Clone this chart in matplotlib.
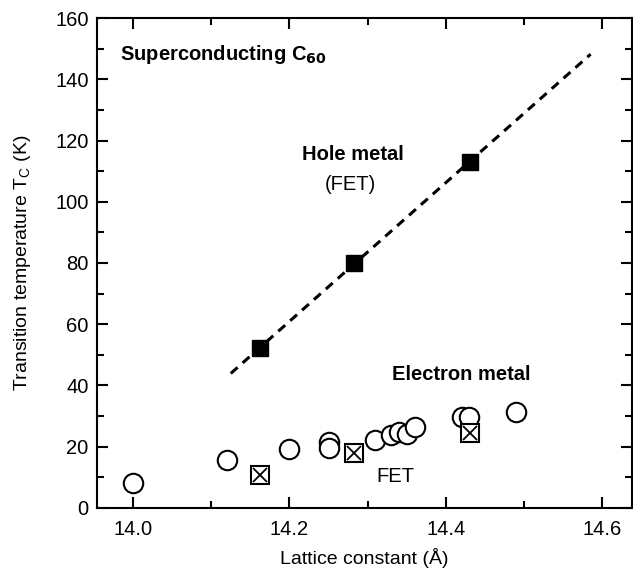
import numpy as np
import matplotlib.pyplot as plt
from matplotlib.ticker import MultipleLocator

plt.rcParams['font.family'] = ['Liberation Sans', 'DejaVu Sans']

# Metal electrónico (círculos)
electron_a = [14.00, 14.12, 14.20, 14.25, 14.25, 14.31, 14.33, 14.34, 14.35, 14.36, 14.42, 14.43, 14.49]
electron_tc = [8.1, 15.7, 19.2, 21.7, 19.5, 22.2, 23.8, 24.9, 24.2, 26.3, 29.6, 29.6, 31.5]

# Metal electrónico FET (cuadros con cruz)
fet_e_a = [14.163, 14.282, 14.431]
fet_e_tc = [10.8, 17.8, 24.6]

# Metal de huecos FET (cuadros llenos)
hole_a = [14.162, 14.282, 14.431]
hole_tc = [52.1, 79.9, 113.1]

# Extremos de la recta de ajuste
fit_a = [14.125, 14.585]

fig = plt.figure(figsize=(6.33, 5.70), dpi=100)
ax = fig.add_axes([0.1532, 0.1088, 0.8453, 0.8596])

# Recta de ajuste para huecos
coef = np.polyfit(hole_a, hole_tc, 1)
ax.plot(fit_a, np.polyval(coef, fit_a), color='black', lw=2.2, dashes=(3, 2.2))

ax.plot(electron_a, electron_tc, 'o', ms=14, mfc='white', mec='black', mew=1.5, ls='none')
ax.plot(fet_e_a, fet_e_tc, 's', ms=13, mfc='white', mec='black', mew=1.5, ls='none')
ax.plot(fet_e_a, fet_e_tc, 'x', ms=9.5, mec='black', mew=1.3, ls='none')
ax.plot(hole_a, hole_tc, 's', ms=11, mfc='black', mec='black', ls='none')

ax.set_xlim(13.954, 14.638)
ax.set_ylim(0, 160)
ax.xaxis.set_minor_locator(MultipleLocator(0.1))
ax.yaxis.set_major_locator(MultipleLocator(20))
ax.yaxis.set_minor_locator(MultipleLocator(10))
ax.set_xticks([14.0, 14.2, 14.4, 14.6])
ax.set_xticklabels(['14.0', '14.2', '14.4', '14.6'])
ax.tick_params(which='both', direction='in', top=True, right=True, width=1.5, labelsize=14.5)
ax.tick_params(which='major', length=8)
ax.tick_params(which='minor', length=5)
ax.tick_params(axis='x', pad=9)
ax.tick_params(axis='y', pad=6)
for s in ax.spines.values():
    s.set_linewidth(1.5)

ax.set_xlabel('Lattice constant (Å)', fontsize=14, labelpad=6)
ax.set_ylabel(r'Transition temperature T$_\mathregular{C}$ (K)', fontsize=14, labelpad=16)

ax.text(13.983, 148, r'Superconducting C$_\mathbf{60}$', fontsize=14.5, fontweight='bold', va='center')
ax.text(14.281, 115.5, 'Hole metal', fontsize=14.5, fontweight='bold', ha='center', va='center')
ax.text(14.278, 105.5, '(FET)', fontsize=14.5, ha='center', va='center')
ax.text(14.42, 43.5, 'Electron metal', fontsize=14.5, fontweight='bold', ha='center', va='center')
ax.text(14.335, 10.3, 'FET', fontsize=14.5, ha='center', va='center')

plt.savefig('out.png', dpi=100)
